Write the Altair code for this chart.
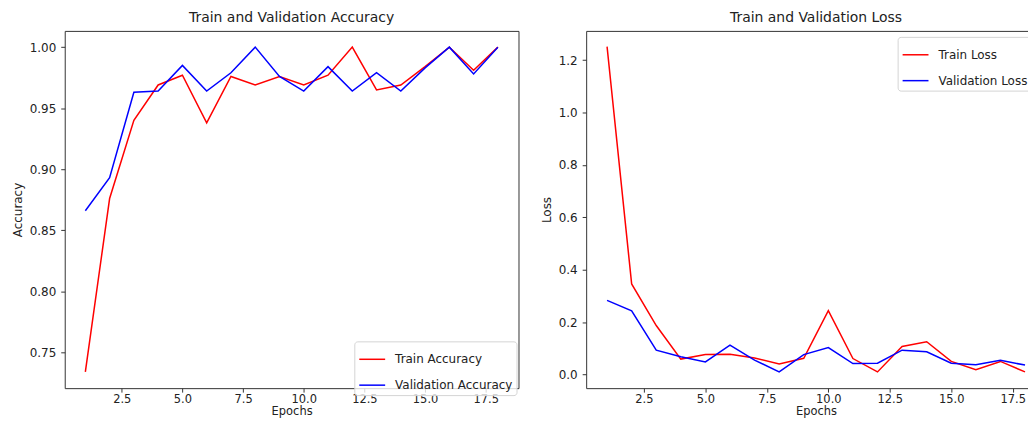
import altair as alt
import pandas as pd

FONT = "DejaVu Sans"

epochs = list(range(1, 19))
train_acc = [0.734, 0.876, 0.940, 0.969, 0.977, 0.938, 0.976, 0.969, 0.976,
             0.969, 0.977, 1.000, 0.965, 0.969, 0.984, 1.000, 0.981, 1.000]
val_acc = [0.866, 0.893, 0.963, 0.964, 0.985, 0.964, 0.979, 1.000, 0.976,
           0.964, 0.984, 0.964, 0.979, 0.964, 0.983, 1.000, 0.978, 1.000]
train_loss = [1.252, 0.346, 0.187, 0.059, 0.076, 0.077, 0.063, 0.040, 0.062,
              0.244, 0.061, 0.010, 0.107, 0.125, 0.050, 0.018, 0.050, 0.010]
val_loss = [0.283, 0.243, 0.093, 0.068, 0.048, 0.112, 0.055, 0.010, 0.076,
            0.103, 0.042, 0.043, 0.093, 0.087, 0.043, 0.037, 0.054, 0.036]

x_ticks = [2.5, 5.0, 7.5, 10.0, 12.5, 15.0, 17.5]
acc_ticks = [0.75, 0.80, 0.85, 0.90, 0.95, 1.00]
loss_ticks = [0.0, 0.2, 0.4, 0.6, 0.8, 1.0, 1.2]

acc_names = ["Train Accuracy", "Validation Accuracy"]
loss_names = ["Train Loss", "Validation Loss"]
colors = ["#ff0000", "#0000ff"]

acc_df = pd.DataFrame({
    "Epoch": epochs * 2,
    "Value": train_acc + val_acc,
    "Series": [acc_names[0]] * len(epochs) + [acc_names[1]] * len(epochs),
})
loss_df = pd.DataFrame({
    "Epoch": epochs * 2,
    "Value": train_loss + val_loss,
    "Series": [loss_names[0]] * len(epochs) + [loss_names[1]] * len(epochs),
})

FRAME = "#333333"
PLOT_H = 359


def lines(df, names, title, ytitle, ydomain, yticks, yfmt, width, lx, ly):
    return (
        alt.Chart(df, title=alt.Title(title))
        .mark_line(strokeWidth=1.5)
        .encode(
            x=alt.X("Epoch:Q",
                    scale=alt.Scale(domain=[0.15, 18.85], nice=False, zero=False),
                    axis=alt.Axis(values=x_ticks, format=".1f", title="Epochs")),
            y=alt.Y("Value:Q",
                    scale=alt.Scale(domain=ydomain, nice=False, zero=False),
                    axis=alt.Axis(values=yticks, format=yfmt, title=ytitle)),
            color=alt.Color("Series:N",
                            scale=alt.Scale(domain=names, range=colors),
                            legend=alt.Legend(
                                title=None, orient="none", legendX=lx, legendY=ly,
                                symbolType="stroke", symbolSize=676,
                                symbolStrokeWidth=1.5, labelFontSize=12,
                                labelFont=FONT, labelColor="#222",
                                fillColor="rgba(255,255,255,0.8)",
                                strokeColor="#d4d4d4", padding=4, rowPadding=6,
                                labelOffset=9, cornerRadius=3)),
        )
        .properties(width=width, height=PLOT_H)
    )


left = lines(acc_df, acc_names, "Train and Validation Accuracy", "Accuracy",
             [0.7207, 1.0133], acc_ticks, ".2f", 456, 291, 312)
# the right panel runs past the picture's right edge, as in the reference
right = lines(loss_df, loss_names, "Train and Validation Loss", "Loss",
              [-0.052, 1.312], loss_ticks, ".1f", 462, 313, 6)

chart = (
    alt.hconcat(left, right, spacing=20)
    .resolve_scale(color="independent")
    .resolve_legend(color="independent")
    .configure(padding={"left": 2, "top": 1, "right": -19, "bottom": 0})
    .configure_view(stroke=FRAME, strokeWidth=1)
    .configure_axis(grid=False, domain=False, tickSize=4, tickColor=FRAME,
                    labelFont=FONT, labelFontSize=12, labelColor="#222",
                    titleFont=FONT, titleFontSize=12,
                    titleFontWeight="normal", titleColor="#222")
    .configure_axisX(labelPadding=1, titlePadding=1, labelFontSize=11.5,
                     titleFontSize=11.5)
    .configure_axisY(labelPadding=5, titlePadding=5)
    .configure_title(font=FONT, fontSize=14, fontWeight="normal", color="#222",
                     offset=6, anchor="middle")
)

chart.save("out.html", embed_options={"renderer": "svg", "actions": False})
